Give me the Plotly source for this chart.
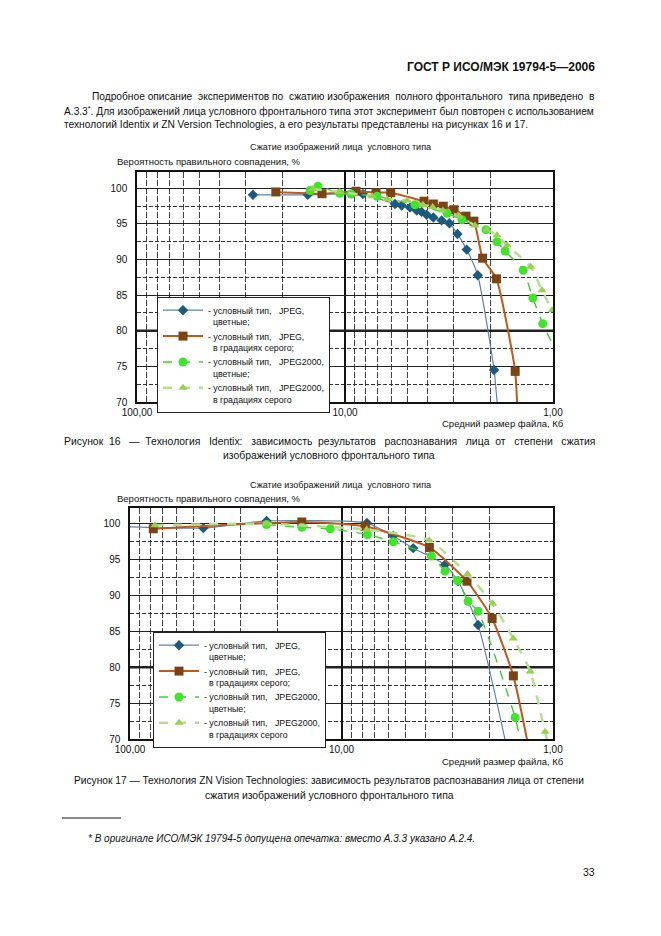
import plotly.graph_objects as go

W, H = 661, 936

# ---------------- DATA ----------------
# Figure 16 (Identix)
f16_jpeg_col_x = [27.7, 15.1, 8.2, 5.75, 5.34, 4.87, 4.52, 4.28, 4.05, 3.76, 3.43, 3.15, 2.88, 2.60, 2.30, 1.92, 1.80]
f16_jpeg_col_y = [99.1, 99.1, 99.2, 97.8, 97.6, 97.3, 96.9, 96.7, 96.3, 95.9, 95.5, 95.1, 93.6, 91.4, 87.8, 74.5, 65.0]

f16_jpeg_gray_x = [21.5, 12.9, 8.85, 7.09, 6.03, 4.17, 3.76, 3.37, 2.99, 2.62, 2.40, 2.18, 1.87, 1.52, 1.47]
f16_jpeg_gray_y = [99.5, 99.25, 99.6, 99.4, 99.4, 98.2, 97.8, 97.5, 97.0, 96.1, 95.4, 90.2, 87.3, 74.3, 65.0]

f16_j2k_col_x = [14.7, 13.5, 10.6, 9.36, 7.02, 4.61, 3.23, 2.74, 2.10, 1.86, 1.70, 1.39, 1.25, 1.12, 0.90]
f16_j2k_col_y = [99.7, 100.3, 99.3, 99.2, 98.9, 97.7, 96.5, 95.6, 94.2, 92.5, 91.2, 88.5, 84.6, 81.0, 75.3]

f16_j2k_gray_x = [14.3, 10.6, 7.42, 6.28, 5.03, 4.22, 3.79, 3.38, 2.86, 2.37, 2.08, 1.86, 1.66, 1.28, 1.13, 1.01]
f16_j2k_gray_y = [99.9, 99.5, 98.9, 98.5, 98.3, 97.7, 97.4, 96.9, 96.2, 94.8, 94.2, 93.4, 92.0, 89.0, 85.7, 82.9]

# Figure 17 (ZN Vision Technologies)
f17_jpeg_col_x = [105.0, 45.0, 22.6, 7.58, 5.69, 4.58, 3.24, 2.81, 2.26, 1.55]
f17_jpeg_col_y = [99.6, 99.4, 100.4, 100.1, 98.3, 96.6, 94.3, 92.0, 85.9, 65.0]

f17_jpeg_gray_x = [77.6, 15.4, 7.74, 3.84, 2.55, 1.94, 1.54, 1.23]
f17_jpeg_gray_y = [99.3, 100.25, 99.65, 96.7, 92.0, 86.8, 78.8, 65.0]

f17_j2k_col_x = [22.6, 15.4, 11.3, 7.54, 5.69, 3.76, 3.24, 2.83, 2.52, 2.26, 1.51, 1.32]
f17_j2k_col_y = [99.9, 99.5, 99.3, 98.5, 97.5, 95.5, 93.4, 92.1, 89.2, 87.8, 73.0, 65.0]

f17_j2k_gray_x = [76.2, 22.6, 7.6, 3.85, 2.54, 1.93, 1.54, 1.28, 1.09, 0.97]
f17_j2k_gray_y = [99.8, 100.0, 99.2, 97.7, 93.0, 88.9, 84.0, 79.4, 71.0, 65.0]

x_tick_vals = [100, 10, 1]
x_tick_text = ["100,00", "10,00", "1,00"]
x_minor_vals = [2, 3, 4, 5, 6, 7, 8, 9, 20, 30, 40, 50, 60, 70, 80, 90]
y_tick_vals = [70, 75, 80, 85, 90, 95, 100]
y_minor_vals = [72.5, 77.5, 82.5, 87.5, 92.5, 97.5]

NB = "\u00a0"
legend_names = [
    "- условный тип," + NB * 3 + "JPEG,<br>" + NB * 2 + "цветные;",
    "- условный тип," + NB * 3 + "JPEG,<br>" + NB * 2 + "в градациях серого;",
    "- условный тип," + NB * 3 + "JPEG2000,<br>" + NB * 2 + "цветные;",
    "- условный тип," + NB * 3 + "JPEG2000,<br>" + NB * 2 + "в градациях серого",
]

# ---------------- STYLES ----------------
FONT = "Liberation Sans, Arial, sans-serif"
styles = [
    dict(line=dict(color="#5d87a3", width=1.2), marker=dict(symbol="diamond", size=8, color="#1d5a80")),
    dict(line=dict(color="#c2561b", width=2), marker=dict(symbol="square", size=9, color="#7a4416")),
    dict(line=dict(color="#3fcf2e", width=1.4, dash="dash"), marker=dict(symbol="circle", size=9, color="#3ee52a")),
    dict(line=dict(color="#b4e08e", width=2.5, dash="dash"), marker=dict(symbol="triangle-up", size=8, color="#98d050")),
]


def px(x):
    return x / W


def py(y):
    return 1 - y / H


fig = go.Figure()

series16 = [(f16_jpeg_col_x, f16_jpeg_col_y), (f16_jpeg_gray_x, f16_jpeg_gray_y),
            (f16_j2k_col_x, f16_j2k_col_y), (f16_j2k_gray_x, f16_j2k_gray_y)]
series17 = [(f17_jpeg_col_x, f17_jpeg_col_y), (f17_jpeg_gray_x, f17_jpeg_gray_y),
            (f17_j2k_col_x, f17_j2k_col_y), (f17_j2k_gray_x, f17_j2k_gray_y)]

for i, (xs, ys) in enumerate(series16):
    st = styles[i]
    fig.add_trace(go.Scatter(x=xs, y=ys, mode="lines+markers", name=legend_names[i],
                             line=dict(shape="spline", smoothing=0.5, **st["line"]),
                             marker=st["marker"], xaxis="x", yaxis="y", legend="legend"))
for i, (xs, ys) in enumerate(series17):
    st = styles[i]
    fig.add_trace(go.Scatter(x=xs, y=ys, mode="lines+markers", name=legend_names[i],
                             line=dict(shape="spline", smoothing=0.5, **st["line"]),
                             marker=st["marker"], xaxis="x2", yaxis="y2", legend="legend2"))


def xaxis_cfg(domain, anchor):
    return dict(type="log", range=[2, 0], domain=domain, anchor=anchor, automargin=False,
                tickvals=x_tick_vals, ticktext=x_tick_text, ticks="", ticklabelstandoff=0,
                showgrid=True, gridcolor="#111", gridwidth=2,
                minor=dict(tickvals=x_minor_vals, showgrid=True, gridcolor="#444",
                           gridwidth=1, griddash="6px,2px", ticks=""),
                showline=True, linecolor="#111", linewidth=1.5, mirror=True,
                zeroline=False, tickfont=dict(family=FONT, size=10, color="#111"))


def yaxis_cfg(domain, anchor, top):
    return dict(range=[70, top], domain=domain, anchor=anchor, automargin=False,
                tickvals=y_tick_vals, ticks="", showgrid=True, gridcolor="#222", gridwidth=1,
                minor=dict(tickvals=y_minor_vals, showgrid=True, gridcolor="#333",
                           gridwidth=1, griddash="4px,2px", ticks=""),
                showline=True, linecolor="#111", linewidth=1.5, mirror=True,
                zeroline=False, ticklabelstandoff=6,
                tickfont=dict(family=FONT, size=10, color="#111"))


leg_common = dict(xanchor="left", yanchor="top", bgcolor="white", bordercolor="#222",
                  borderwidth=1, font=dict(family=FONT, size=8.8, color="#111"),
                  valign="top", tracegroupgap=0, itemwidth=40)

fig.update_layout(
    template="none",
    width=W, height=H, margin=dict(l=0, r=0, t=0, b=0, autoexpand=False),
    paper_bgcolor="white", plot_bgcolor="white",
    font=dict(family=FONT, color="#111"),
    xaxis=xaxis_cfg([px(137), px(553)], "y"),
    yaxis=yaxis_cfg([py(402), py(172)], "x", 102.3),
    xaxis2=xaxis_cfg([px(130), px(553)], "y2"),
    yaxis2=yaxis_cfg([py(739), py(508)], "x2", 102.2),
    legend=dict(x=px(157), y=py(297), **leg_common),
    legend2=dict(x=px(153), y=py(632), **leg_common),
    showlegend=True,
)

# thick reference line at 80 %
for yref, xref in (("y", "x domain"), ("y2", "x2 domain")):
    fig.add_shape(type="line", xref=xref, yref=yref, x0=0, x1=1, y0=80, y1=80,
                  line=dict(color="#222", width=2.5), layer="below")

# footnote separator
fig.add_shape(type="line", xref="paper", yref="paper", x0=px(62), x1=px(121),
              y0=py(818), y1=py(818), line=dict(color="#111", width=1))


def txt(text, x, y, size=10.2, xanchor="left", bold=False, italic=False):
    if bold:
        text = "<b>" + text + "</b>"
    if italic:
        text = "<i>" + text + "</i>"
    fig.add_annotation(text=text, x=px(x), y=py(y), xref="paper", yref="paper",
                       xanchor=xanchor, yanchor="middle", showarrow=False,
                       font=dict(family=FONT, size=size, color="#111"))


def justify(s, extra):
    """widen a line by inserting `extra` additional spaces between words"""
    words = s.split(" ")
    gaps = len(words) - 1
    out = words[0]
    for k in range(gaps):
        add = (extra * (k + 1)) // gaps - (extra * k) // gaps
        out += " " + NB * add + words[k + 1]
    return out


txt("ГОСТ Р ИСО/МЭК 19794-5—2006", 597, 67, size=12, xanchor="right", bold=True)
txt(justify("Подробное описание экспериментов по сжатию изображения полного фронтального типа приведено в", 5), 90, 97)
txt("А.3.3<sup>*</sup>. Для изображений лица условного фронтального типа этот эксперимент был повторен с использованием", 62, 111)
txt("технологий Identix и ZN Version Technologies, а его результаты представлены на рисунках 16 и 17.", 62, 125)

txt("Сжатие изображений лица" + NB * 2 + "условного типа", 340, 147, size=9, xanchor="center")
txt("Вероятность правильного совпадения, %", 115, 161, size=9.5)
txt("Средний размер файла, Кб", 566, 424, size=9.5, xanchor="right")
txt(justify("Рисунок 16 — Технология Identix: зависимость результатов распознавания лица от степени сжатия", 18), 62, 441, size=10.4)
txt("изображений условного фронтального типа", 329, 455, size=10.4, xanchor="center")

txt("Сжатие изображений лица" + NB * 2 + "условного типа", 340, 485, size=9, xanchor="center")
txt("Вероятность правильного совпадения, %", 115, 498, size=9.5)
txt("Средний размер файла, Кб", 566, 761, size=9.5, xanchor="right")
txt("Рисунок 17 — Технология ZN Vision Technologies: зависимость результатов распознавания лица от степени", 329, 780, size=10.2, xanchor="center")
txt("сжатия изображений условного фронтального типа", 329, 795, size=10.4, xanchor="center")

txt("* В оригинале ИСО/МЭК 19794-5 допущена опечатка: вместо А.3.3 указано А.2.4.", 86, 838, size=10, italic=True)
txt("33", 597, 872, size=10.5, xanchor="right")

fig.write_html("out.html", config={"displayModeBar": False},
               post_script="document.body.style.margin='0';")
